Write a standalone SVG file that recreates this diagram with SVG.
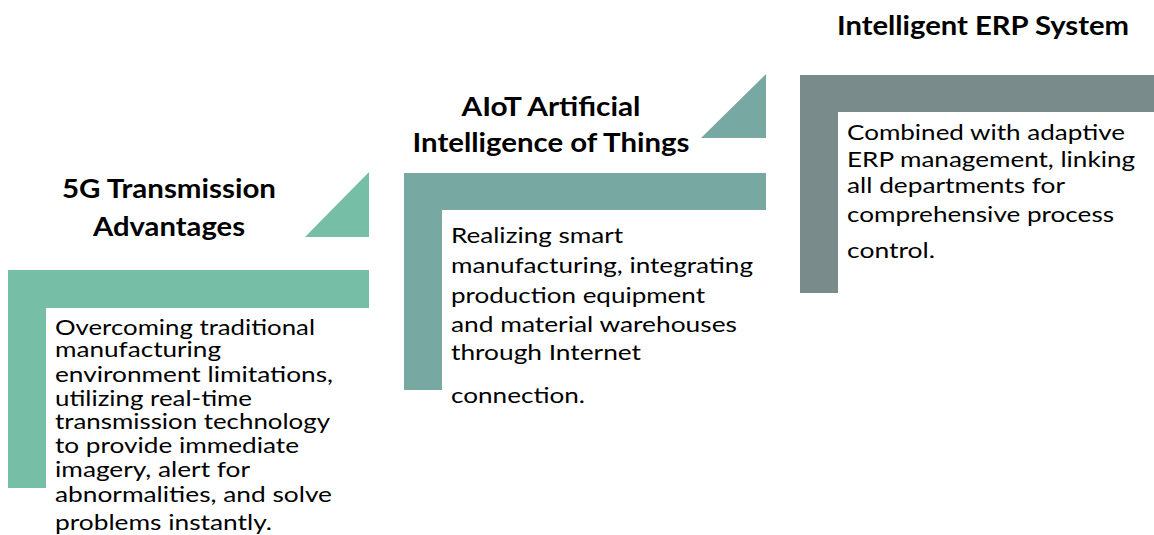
<svg xmlns="http://www.w3.org/2000/svg" width="1154" height="535" viewBox="0 0 1154 535">
<style>
.t{font-family:Lato,"Open Sans","Liberation Sans",sans-serif;font-weight:bold;font-size:26px;fill:#000;text-anchor:middle}
.b{font-family:Lato,"Open Sans","Liberation Sans",sans-serif;font-size:21px;fill:#000}
.s1{fill:#76BEA6}.s2{fill:#78A8A2}.s3{fill:#7A8B8C}
</style>
<rect width="1154" height="535" fill="#fff"/>
<g id="connectors">
<path class="s1" d="M369,172 V237 H305 Z"/>
<path class="s2" d="M766,74 V138 H701 Z"/>
</g>
<g id="step1">
<path class="s1" d="M8,270 H369 V308 H46 V488 H8 Z"/>
<text class="t" x="169" y="198" textLength="214" lengthAdjust="spacingAndGlyphs">5G Transmission</text>
<text class="t" x="169" y="236" textLength="152" lengthAdjust="spacingAndGlyphs">Advantages</text>
<text class="b" x="55" y="335" textLength="260" lengthAdjust="spacingAndGlyphs">Overcoming traditional</text>
<text class="b" x="55" y="357" textLength="166" lengthAdjust="spacingAndGlyphs">manufacturing</text>
<text class="b" x="55" y="382" textLength="278" lengthAdjust="spacingAndGlyphs">environment limitations,</text>
<text class="b" x="55" y="406" textLength="197" lengthAdjust="spacingAndGlyphs">utilizing real-time</text>
<text class="b" x="55" y="429" textLength="275" lengthAdjust="spacingAndGlyphs">transmission technology</text>
<text class="b" x="55" y="453" textLength="244" lengthAdjust="spacingAndGlyphs">to provide immediate</text>
<text class="b" x="55" y="477" textLength="195" lengthAdjust="spacingAndGlyphs">imagery, alert for</text>
<text class="b" x="55" y="502" textLength="277" lengthAdjust="spacingAndGlyphs">abnormalities, and solve</text>
<text class="b" x="55" y="530" textLength="217" lengthAdjust="spacingAndGlyphs">problems instantly.</text>
</g>
<g id="step2">
<path class="s2" d="M404,173 H766 V210 H442 V390 H404 Z"/>
<text class="t" x="551" y="116" textLength="179" lengthAdjust="spacingAndGlyphs">AIoT Artificial</text>
<text class="t" x="551" y="152" textLength="277" lengthAdjust="spacingAndGlyphs">Intelligence of Things</text>
<text class="b" x="451" y="243" textLength="172" lengthAdjust="spacingAndGlyphs">Realizing smart</text>
<text class="b" x="451" y="273" textLength="302" lengthAdjust="spacingAndGlyphs">manufacturing, integrating</text>
<text class="b" x="451" y="303" textLength="254" lengthAdjust="spacingAndGlyphs">production equipment</text>
<text class="b" x="451" y="332" textLength="286" lengthAdjust="spacingAndGlyphs">and material warehouses</text>
<text class="b" x="451" y="360" textLength="190" lengthAdjust="spacingAndGlyphs">through Internet</text>
<text class="b" x="451" y="403" textLength="134" lengthAdjust="spacingAndGlyphs">connection.</text>
</g>
<g id="step3">
<path class="s3" d="M800,75 H1154 V112 H838 V293 H800 Z"/>
<text class="t" x="983" y="35" textLength="292" lengthAdjust="spacingAndGlyphs">Intelligent ERP System</text>
<text class="b" x="847" y="140" textLength="278" lengthAdjust="spacingAndGlyphs">Combined with adaptive</text>
<text class="b" x="847" y="167" textLength="288" lengthAdjust="spacingAndGlyphs">ERP management, linking</text>
<text class="b" x="847" y="193" textLength="218" lengthAdjust="spacingAndGlyphs">all departments for</text>
<text class="b" x="847" y="222" textLength="267" lengthAdjust="spacingAndGlyphs">comprehensive process</text>
<text class="b" x="847" y="258" textLength="88" lengthAdjust="spacingAndGlyphs">control.</text>
</g>
</svg>
